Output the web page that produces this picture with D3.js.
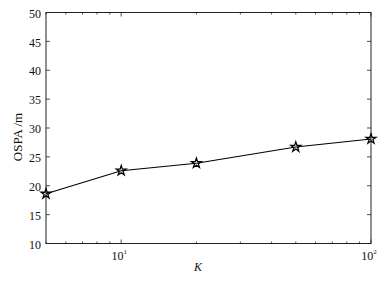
<!DOCTYPE html>
<html>
<head>
<meta charset="utf-8">
<script src="https://cdn.jsdelivr.net/npm/d3@7"></script>
<style>
  body { margin: 0; background: #fff; }
  svg text { font-family: "Liberation Serif", "Times New Roman", serif; fill: #111; }
</style>
</head>
<body>
<div id="chart"></div>
<script>
// chart data
const kValues = [5, 10, 20, 50, 100];
const ospaValues = [18.6, 22.6, 23.9, 26.7, 28.1];
const yTicks = [10, 15, 20, 25, 30, 35, 40, 45, 50];
const xMajorTicks = [10, 100];
const xMinorTicks = [5, 6, 7, 8, 9, 20, 30, 40, 50, 60, 70, 80, 90];

const width = 389, height = 281;
const margin = { top: 12.5, right: 18, bottom: 37.5, left: 46 };

const svg = d3.select("#chart").append("svg")
    .attr("width", width)
    .attr("height", height);

const x = d3.scaleLog()
    .domain([5, 100])
    .range([margin.left, width - margin.right]);

const y = d3.scaleLinear()
    .domain([10, 50])
    .range([height - margin.bottom, margin.top]);

const x0 = x.range()[0], x1 = x.range()[1];
const y0 = y.range()[0], y1 = y.range()[1];

// ticks, drawn inward on all four sides
const tickG = svg.append("g").attr("stroke", "#222").attr("stroke-width", 0.8);
yTicks.forEach(v => {
    tickG.append("line").attr("x1", x0).attr("x2", x0 + 4).attr("y1", y(v)).attr("y2", y(v));
    tickG.append("line").attr("x1", x1).attr("x2", x1 - 4).attr("y1", y(v)).attr("y2", y(v));
});
xMajorTicks.forEach(v => {
    tickG.append("line").attr("x1", x(v)).attr("x2", x(v)).attr("y1", y0).attr("y2", y0 - 4);
    tickG.append("line").attr("x1", x(v)).attr("x2", x(v)).attr("y1", y1).attr("y2", y1 + 4);
});
xMinorTicks.forEach(v => {
    tickG.append("line").attr("x1", x(v)).attr("x2", x(v)).attr("y1", y0).attr("y2", y0 - 2);
    tickG.append("line").attr("x1", x(v)).attr("x2", x(v)).attr("y1", y1).attr("y2", y1 + 2);
});

// frame
svg.append("rect")
    .attr("x", x0).attr("y", y1)
    .attr("width", x1 - x0).attr("height", y0 - y1)
    .attr("fill", "none").attr("stroke", "#222").attr("stroke-width", 1);

// y tick labels
svg.append("g").selectAll("text")
    .data(yTicks)
    .join("text")
    .attr("x", x0 - 5)
    .attr("y", d => y(d) + 1)
    .attr("dy", "0.35em")
    .attr("text-anchor", "end")
    .attr("font-size", 12)
    .text(d => d);

// x tick labels as 10^n
const xl = svg.append("g").selectAll("text")
    .data(xMajorTicks)
    .join("text")
    .attr("x", d => x(d) - 2)
    .attr("y", y0 + 16)
    .attr("text-anchor", "middle")
    .attr("font-size", 12);
xl.append("tspan").text("10");
xl.append("tspan")
    .attr("font-size", 7)
    .attr("dy", -6)
    .text(d => Math.round(Math.log10(d)));

// axis titles
svg.append("text")
    .attr("x", 198)
    .attr("y", 271)
    .attr("text-anchor", "middle")
    .attr("font-size", 12)
    .attr("font-style", "italic")
    .text("K");

svg.append("text")
    .attr("transform", "translate(22,137) rotate(-90)")
    .attr("text-anchor", "middle")
    .attr("font-size", 13)
    .text("OSPA /m");

// line
const line = d3.line()
    .x((d, i) => x(kValues[i]))
    .y(d => y(d));

svg.append("path")
    .datum(ospaValues)
    .attr("d", line)
    .attr("fill", "none")
    .attr("stroke", "#000")
    .attr("stroke-width", 1.1);

// star markers
const star = d3.symbol().type(d3.symbolStar).size(30);
svg.append("g").selectAll("path")
    .data(ospaValues)
    .join("path")
    .attr("transform", (d, i) => `translate(${x(kValues[i])},${y(d)})`)
    .attr("d", star)
    .attr("fill", "none")
    .attr("stroke", "#000")
    .attr("stroke-width", 1.3);
</script>
</body>
</html>
